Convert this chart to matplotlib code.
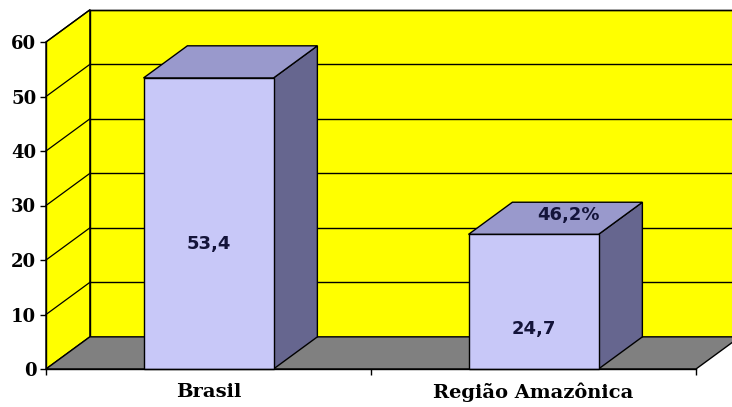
import matplotlib
matplotlib.use('Agg')
import matplotlib.pyplot as plt
from matplotlib.patches import Polygon

categories = ['Brasil', 'Região Amazônica']
values = [53.4, 24.7]
value_labels = ['53,4', '24,7']
top_label = '46,2%'
yticks = [0, 10, 20, 30, 40, 50, 60]

WALL = '#FFFF00'
FLOOR = '#808080'
FRONT = '#C8C8F8'
TOP = '#9999CC'
SIDE = '#66668F'
TEXT = '#14143A'

# depth offset of the 3D box (category units, value units)
DX, DY = 0.135, 5.9
BAR_W = 0.4
YMAX = 60


def face(ax, pts, color, z):
    ax.add_patch(Polygon(pts, closed=True, facecolor=color, edgecolor='black',
                         linewidth=1.0, zorder=z, clip_on=False))


fig = plt.figure(figsize=(7.32, 4.07), dpi=100)
ax = fig.add_axes([46 / 732, 38 / 407, 650 / 732, 327 / 407])
n = len(categories)
ax.set_xlim(0, n)
ax.set_ylim(0, YMAX)

# walls and floor
face(ax, [(DX, DY), (n + DX, DY), (n + DX, YMAX + DY), (DX, YMAX + DY)], WALL, 1)
face(ax, [(0, 0), (DX, DY), (DX, YMAX + DY), (0, YMAX)], WALL, 1)
face(ax, [(0, 0), (n, 0), (n + DX, DY), (DX, DY)], FLOOR, 1)
for y in yticks[1:]:
    ax.plot([DX, n + DX], [y + DY, y + DY], color='black', lw=1.0,
            zorder=2, clip_on=False)
    ax.plot([0, DX], [y, y + DY], color='black', lw=0.9,
            zorder=2, clip_on=False)

# bars: front, side, top
label_frac = [0.43, 0.30]
for i, (v, lab) in enumerate(zip(values, value_labels)):
    x0 = i + 0.5 - BAR_W / 2
    x1 = i + 0.5 + BAR_W / 2
    face(ax, [(x1, 0), (x1 + DX, DY), (x1 + DX, v + DY), (x1, v)], SIDE, 3)
    face(ax, [(x0, v), (x1, v), (x1 + DX, v + DY), (x0 + DX, v + DY)], TOP, 3)
    face(ax, [(x0, 0), (x1, 0), (x1, v), (x0, v)], FRONT, 4)
    ax.text(i + 0.5, v * label_frac[i], lab, ha='center', va='center',
            fontsize=13, fontweight='bold', family='DejaVu Sans',
            color=TEXT, zorder=6)

ax.text(1.5 + DX * 0.8, values[1] + DY * 0.6, top_label, ha='center',
        va='center', fontsize=13, fontweight='bold', family='DejaVu Sans',
        color=TEXT, zorder=6)

for s in ['top', 'right']:
    ax.spines[s].set_visible(False)
for s in ['left', 'bottom']:
    ax.spines[s].set_linewidth(1.0)
    ax.spines[s].set_zorder(5)
ax.patch.set_visible(False)

ax.set_yticks(yticks)
ax.set_yticklabels([str(t) for t in yticks], family='DejaVu Serif',
                   fontweight='bold', fontsize=13)
ax.tick_params(axis='y', length=4, width=1, pad=3)

ax.set_xticks(range(n + 1))
ax.set_xticklabels([])
ax.set_xticks([i + 0.5 for i in range(n)], minor=True)
ax.set_xticklabels(categories, minor=True, family='DejaVu Serif',
                   fontweight='bold', fontsize=14)
ax.tick_params(axis='x', which='major', length=4, width=1)
ax.tick_params(axis='x', which='minor', length=0, pad=10)

fig.savefig('out.png', dpi=100)
